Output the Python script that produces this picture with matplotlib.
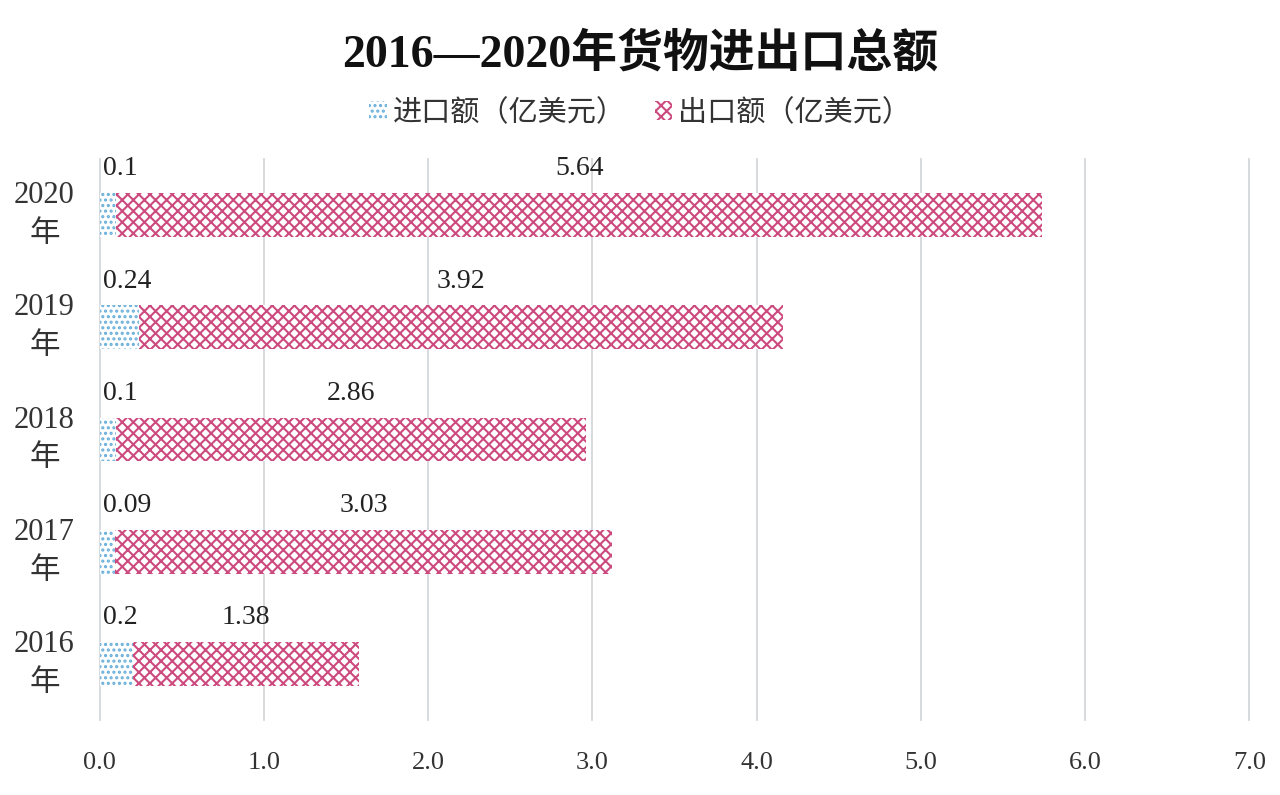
import matplotlib
matplotlib.use('Agg')
import matplotlib.pyplot as plt
from matplotlib.patches import Patch

plt.rcParams['hatch.linewidth'] = 1.5

# data
years = ['2016\n年', '2017\n年', '2018\n年', '2019\n年', '2020\n年']
imports = [0.2, 0.09, 0.1, 0.24, 0.1]
exports = [1.38, 3.03, 2.86, 3.92, 5.64]
xticks = [0, 1, 2, 3, 4, 5, 6, 7]

serif_cjk = ['Liberation Serif', 'Noto Sans CJK SC']
imp_color = '#6AAFDA'
exp_color = '#CC4A7E'

fig = plt.figure(figsize=(12.8, 7.95), dpi=100)
ax = fig.add_axes([0.078, 0.0943, 0.898, 0.7057])

pos = list(range(len(years)))
h = 0.39
ax.barh(pos, imports, height=h, color='white', edgecolor=imp_color,
        hatch='...', linewidth=0)
ax.barh(pos, exports, left=imports, height=h, color='white',
        edgecolor=exp_color, hatch='xxx', linewidth=0)

# labels
for i in pos:
    ax.text(0.02, i + 0.3, str(imports[i]), ha='left', va='bottom',
            fontsize=20, family=serif_cjk, color='#222222')
    ax.text(imports[i] + exports[i] / 2, i + 0.3, str(exports[i]),
            ha='center', va='bottom', fontsize=20, family=serif_cjk,
            color='#222222')

ax.set_xlim(0, 7.0)
ax.set_ylim(-0.5, 4.5)
ax.set_xticks(xticks)
ax.set_xticklabels(['%.1f' % t for t in xticks], family=serif_cjk, fontsize=19,
                   color='#333333')
ax.set_yticks(pos)
ax.set_yticklabels(years, family=serif_cjk, fontsize=22, color='#333333',
                   ha='center', va='center', linespacing=1.45)
ax.tick_params(axis='x', length=0, pad=23)
ax.tick_params(axis='y', length=0, pad=40)
ax.grid(axis='x', color='#D4D8DA', linewidth=1.3)
ax.set_axisbelow(True)
for s in ax.spines.values():
    s.set_visible(False)
for gl in ax.get_xgridlines():
    gl.set_clip_on(False)

fig.text(0.5, 0.932, '2016—2020年货物进出口总额', ha='center', va='center',
         fontsize=33, fontweight='bold', family=serif_cjk, color='#111111')

handles = [Patch(facecolor='white', edgecolor=imp_color, hatch='...', linewidth=0,
                 label='进口额（亿美元）'),
           Patch(facecolor='white', edgecolor=exp_color, hatch='xxx', linewidth=0,
                 label='出口额（亿美元）')]
fig.legend(handles=handles, loc='center', bbox_to_anchor=(0.5, 0.858), ncol=2,
           frameon=False, prop={'family': 'Noto Sans CJK SC', 'size': 21},
           handlelength=0.6, handleheight=0.6, handletextpad=0.2,
           columnspacing=1.0, labelcolor='#333333')

fig.savefig('out.png', dpi=100, facecolor='white')
